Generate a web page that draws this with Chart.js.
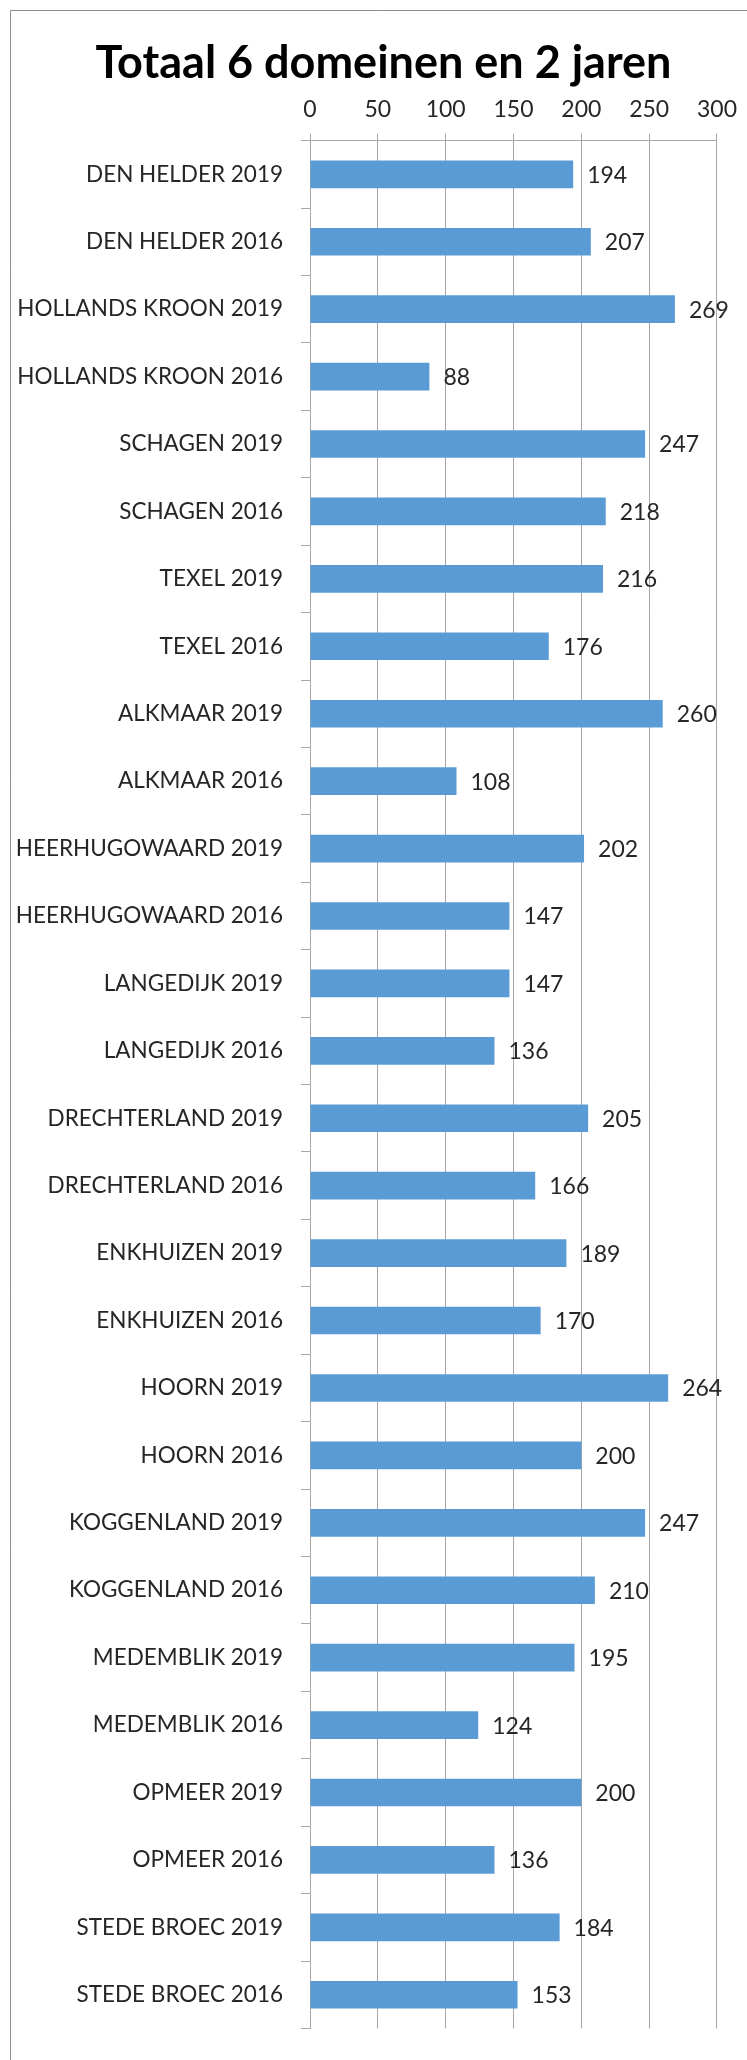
<!DOCTYPE html>
<html>
<head>
<meta charset="utf-8">
<script src="https://cdn.jsdelivr.net/npm/chart.js@4"></script>
<style>
    body { margin: 0; background: #ffffff; }
    #contenedor { position: relative; width: 747px; height: 2060px; }
</style>
</head>
<body>
<div id="contenedor">
    <canvas id="chart1"></canvas>
</div>
<script>
const gemeenten = ['DEN HELDER', 'HOLLANDS KROON', 'SCHAGEN', 'TEXEL', 'ALKMAAR', 'HEERHUGOWAARD', 'LANGEDIJK',
    'DRECHTERLAND', 'ENKHUIZEN', 'HOORN', 'KOGGENLAND', 'MEDEMBLIK', 'OPMEER', 'STEDE BROEC'];
const jaren = ['2019', '2016'];
const totalen = [194, 207, 269, 88, 247, 218, 216, 176, 260, 108, 202, 147, 147, 136,
    205, 166, 189, 170, 264, 200, 247, 210, 195, 124, 200, 136, 184, 153];
const asTicks = [0, 50, 100, 150, 200, 250, 300];

const labels = [];
gemeenten.forEach((g) => { jaren.forEach((j) => { labels.push(g + ' ' + j) }) });

const fuente = { family: 'Lato', size: 23 };

// waarde rechts naast elke balk
const etiquetas = {
    id: 'etiquetas',
    afterDatasetsDraw(chart) {
        const ctx = chart.ctx;
        const meta = chart.getDatasetMeta(0);
        ctx.save();
        ctx.font = '23px Lato';
        ctx.fillStyle = '#262626';
        ctx.textAlign = 'left';
        ctx.textBaseline = 'middle';
        meta.data.forEach((bar, i) => {
            ctx.fillText(totalen[i], bar.x + 14, bar.y + 1);
        });
        ctx.restore();
    }
};

// kader links en boven, titel iets naar rechts
const marco = {
    id: 'marco',
    afterLayout(chart) {
        if (chart.titleBlock) {
            chart.titleBlock.left = 50;
            chart.titleBlock.right = 717;
        }
    },
    beforeDraw(chart) {
        const ctx = chart.ctx;
        ctx.save();
        ctx.strokeStyle = '#8c8c8c';
        ctx.lineWidth = 1;
        ctx.beginPath();
        ctx.moveTo(10.5, chart.height);
        ctx.lineTo(10.5, 10.5);
        ctx.lineTo(chart.width, 10.5);
        ctx.stroke();
        ctx.restore();
    }
};

const data = {
    labels: labels,
    datasets: [{
        label: 'Totaal',
        data: totalen,
        backgroundColor: '#5b9bd5',
        borderWidth: 0,
        barPercentage: 0.41,
        categoryPercentage: 1
    }]
};

const config = {
    type: 'bar',
    data: data,
    options: {
        indexAxis: 'y',
        responsive: true,
        maintainAspectRatio: false,
        animation: false,
        layout: {
            padding: { left: 8, right: 30, top: 0, bottom: 7 }
        },
        plugins: {
            legend: { display: false },
            tooltip: { enabled: false },
            title: {
                display: true,
                text: 'Totaal 6 domeinen en 2 jaren',
                color: '#000000',
                font: { family: 'Lato', size: 45, weight: 'bold', lineHeight: 1 },
                padding: { top: 41, bottom: 0 }
            }
        },
        scales: {
            x: {
                position: 'top',
                min: asTicks[0],
                max: asTicks[asTicks.length - 1],
                afterBuildTicks: (scale) => { scale.ticks = asTicks.map((v) => ({ value: v })) },
                ticks: { color: '#262626', font: fuente, padding: 10 },
                grid: { color: '#a6a6a6', tickLength: 7 },
                border: { color: '#a6a6a6' }
            },
            y: {
                grid: { drawOnChartArea: false, color: '#a6a6a6', tickLength: 9, offset: true },
                border: { color: '#a6a6a6' },
                ticks: { color: '#262626', font: { family: 'Lato', size: 22.5 }, padding: 18, autoSkip: false },
                afterFit: (scale) => { scale.width = 302 }
            }
        }
    },
    plugins: [marco, etiquetas]
};

const canva = document.getElementById('chart1');
const grafico = new Chart(canva, config);
</script>
</body>
</html>
